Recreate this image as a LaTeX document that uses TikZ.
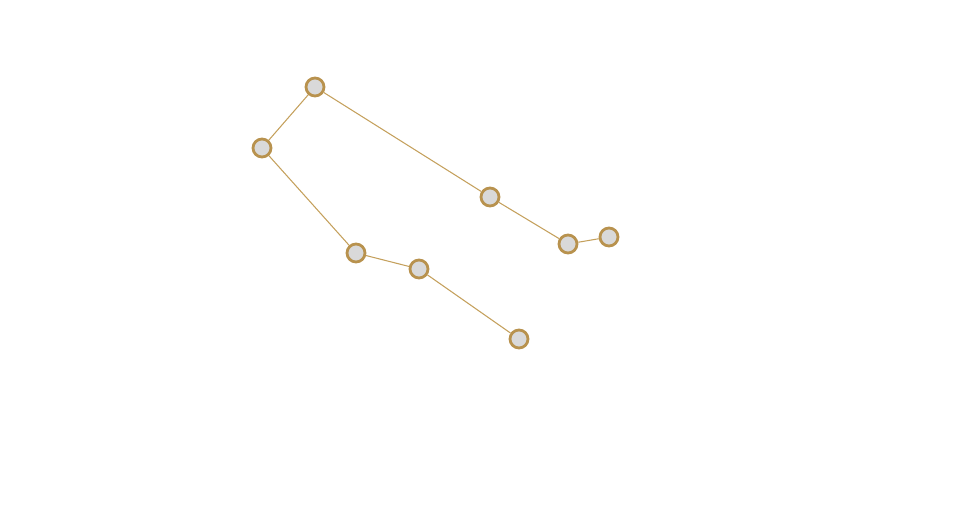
\documentclass[tikz,border=0pt]{standalone}
\usetikzlibrary{positioning}
\definecolor{LinkGold}{HTML}{C4A05C}
\definecolor{NodeRim}{HTML}{B8924E}
\definecolor{NodeFill}{HTML}{D9D9D9}
\tikzset{
  knot/.style={
    circle,
    draw=NodeRim,
    fill=NodeFill,
    line width=1.6pt,
    minimum size=.36cm,
    inner sep=0pt
  },
  link/.style={draw=LinkGold,line width=.6pt}
}
\begin{document}
\begin{tikzpicture}
    \useasboundingbox (0,0) rectangle (19.2,10.6);
    \node[knot] (top) at (6.30,8.86) {};
    \node[knot] (left) at (5.24,7.64) {};
    \node[knot] (low) at (7.12,5.54) {};
    \node[knot] (mid) at (8.38,5.22) {};
    \node[knot] (tail) at (10.38,3.82) {};
    \node[knot] (upper) at (9.80,6.66) {};
    \node[knot] (right) at (11.36,5.72) {};
    \node[knot] (end) at (12.18,5.86) {};
    \draw[link] (top) -- (left);
    \draw[link] (left) -- (low);
    \draw[link] (low) -- (mid);
    \draw[link] (mid) -- (tail);
    \draw[link] (top) -- (upper);
    \draw[link] (upper) -- (right);
    \draw[link] (right) -- (end);
  \end{tikzpicture}
\end{document}
